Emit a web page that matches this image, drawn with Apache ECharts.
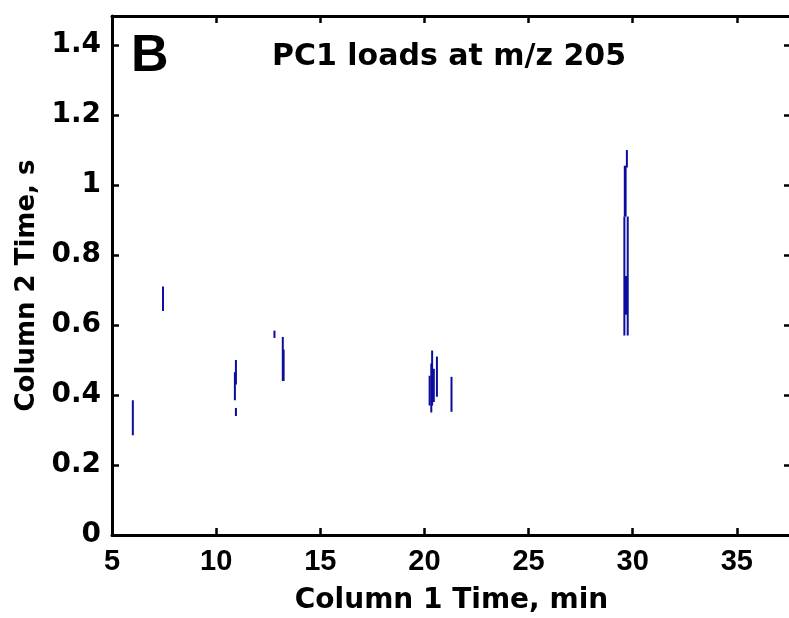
<!DOCTYPE html>
<html>
<head>
<meta charset="utf-8">
<script src="https://cdn.jsdelivr.net/npm/echarts@6/dist/echarts.min.js"></script>
<style>
  html, body { margin: 0; padding: 0; background: #fff; }
  #chart { width: 789px; height: 618px; }
</style>
</head>
<body>
<div id="chart"></div>
<script>
// vertical loading streaks: column 1 time (min), column 2 time range (s)
var segX  = [6.0, 7.45, 10.95, 10.9, 10.95, 12.8, 13.2, 13.24,
             20.25, 20.33, 20.37, 20.45, 20.6, 21.3,
             29.72, 29.62, 29.66, 29.6, 29.76, 29.66, 29.7];
var segLo = [0.285, 0.64, 0.43, 0.385, 0.34, 0.563, 0.44, 0.44,
             0.37, 0.35, 0.37, 0.38, 0.395, 0.352,
             1.05, 0.91, 0.91, 0.57, 0.57, 0.63, 0.63];
var segHi = [0.385, 0.71, 0.5, 0.465, 0.363, 0.584, 0.566, 0.53,
             0.455, 0.49, 0.527, 0.475, 0.51, 0.452,
             1.10, 1.055, 1.055, 0.91, 0.91, 0.74, 0.74];

var xTicks = [5, 10, 15, 20, 25, 30, 35];

var segData = segX.map(function (x, i) { return [x, segLo[i], segHi[i]]; });

var narrow = '"Liberation Sans", Arial, sans-serif';
var wide = '"DejaVu Sans", sans-serif';
var chart = echarts.init(document.getElementById('chart'));

var axisCommon = {
    nameMoveOverlap: false,
    axisLine: { show: true, onZero: false, lineStyle: { color: '#000', width: 3 } },
    axisTick: { show: true, inside: true, length: 7, lineStyle: { color: '#000', width: 2.5 } },
    splitLine: { show: false }
};

chart.setOption({
    animation: false,
    backgroundColor: '#fff',
    title: [{
        text: 'B',
        left: 126, top: 26,
        textStyle: { fontFamily: narrow, fontWeight: 'bold', fontSize: 52, color: '#000' }
    }, {
        text: 'PC1 loads at m/z 205',
        left: 267, top: 37,
        textStyle: { fontFamily: wide, fontWeight: 'bold', fontSize: 30, color: '#000' }
    }],
    grid: { left: 112, right: -2, top: 16, bottom: 83, outerBoundsMode: 'none', containLabel: false },
    xAxis: [Object.assign({
        type: 'value', min: 5, max: 37.6, interval: 5,
        name: 'Column 1 Time, min', nameLocation: 'middle', nameGap: 52,
        nameTextStyle: { fontFamily: wide, fontWeight: 'bold', fontSize: 28, color: '#000' },
        axisLabel: {
            showMaxLabel: false, margin: 12, color: '#000',
            fontFamily: narrow, fontWeight: 'bold', fontSize: 29,
            formatter: function (v) { return xTicks.indexOf(v) >= 0 ? String(v) : ''; }
        }
    }, axisCommon), Object.assign({
        type: 'value', min: 5, max: 37.6, interval: 5, position: 'top',
        axisLabel: { show: false }
    }, axisCommon)],
    yAxis: [Object.assign({
        type: 'value', min: 0, max: 1.483, interval: 0.2,
        name: 'Column 2 Time, s', nameLocation: 'middle', nameGap: 72,
        nameTextStyle: { fontFamily: wide, fontWeight: 'bold', fontSize: 26, color: '#000', padding: [0, 20, 0, 0] },
        axisLabel: {
            showMaxLabel: false, margin: 11, color: '#000',
            fontFamily: wide, fontWeight: 'bold', fontSize: 28,
            formatter: function (v) { return +v.toFixed(1) + ''; }
        }
    }, axisCommon), Object.assign({
        type: 'value', min: 0, max: 1.483, interval: 0.2, position: 'right',
        axisLabel: { show: false }
    }, axisCommon)],
    series: [{
        type: 'custom',
        xAxisIndex: 0, yAxisIndex: 0,
        data: segData,
        encode: { x: 0, y: [1, 2] },
        renderItem: function (params, api) {
            var a = api.coord([api.value(0), api.value(1)]);
            var b = api.coord([api.value(0), api.value(2)]);
            return {
                type: 'line',
                shape: { x1: a[0], y1: a[1], x2: b[0], y2: b[1] },
                style: { stroke: '#0c0c9e', lineWidth: 2 }
            };
        }
    }]
});
</script>
</body>
</html>
